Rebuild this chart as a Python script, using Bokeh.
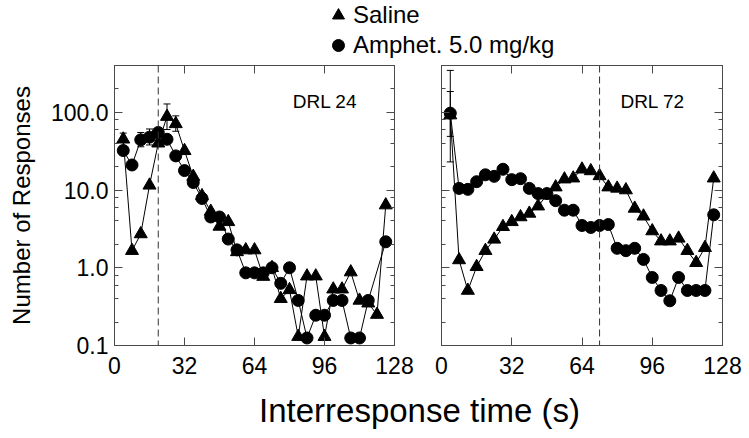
from bokeh.plotting import figure
from bokeh.models import (Range1d, LinearAxis, LogAxis, FixedTicker, LogTicker,
                          PrintfTickFormatter, Span, Label, Whisker, ColumnDataSource,
                          Legend, LegendItem, TeeHead)
from bokeh.layouts import column, row
from bokeh.embed import file_html
from bokeh.resources import INLINE

# ---------------- data ----------------
irt_bins = [4, 8, 12, 16, 20, 24, 28, 32, 36, 40, 44, 48, 52, 56, 60, 64,
            68, 72, 76, 80, 84, 88, 92, 96, 100, 104, 108, 112, 116, 120, 124]

drl24_saline = [45, 1.66, 2.72, 11.5, 40, 88, 71, 32, 14.9, 8.4, 5.3, 3.4, 3.9, 1.6, 1.69, 1.69,
                0.77, 1.0, 0.40, 0.52, 0.13, 0.78, 0.78, 0.13, 0.53, 0.53, 0.88, 0.38, 0.35, 0.25, 6.4]
drl24_amph = [32.2, 21, 44.2, 47.9, 55, 45, 27.5, 17.8, 12.5, 7.8, 4.5, 4.5, 2.34, 1.7, 0.86, 0.86,
              0.86, 1.0, 0.63, 1.0, 0.38, 0.125, 0.245, 0.245, 0.38, 0.38, 0.125, 0.125, 0.38, None, 2.16]

drl72_saline = [92, 1.26, 0.51, 1.03, 1.66, 2.32, 3.37, 3.9, 4.5, 5.0, 6.2, 8.6, 10.9, 13.8, 14.2, 18.5,
                17.6, 15.2, 10.9, 10.5, 10.0, 5.8, 4.6, 2.97, 2.2, 2.2, 2.39, 1.66, 1.16, 1.81, 14.2]
drl72_amph = [97.5, 10.5, 10.2, 12.8, 15.7, 15.0, 18.5, 13.6, 14.0, 10.5, 9.0, 9.0, 7.3, 5.5, 5.5, 3.5,
              3.3, 3.5, 3.6, 1.78, 1.66, 1.78, 1.28, 0.75, 0.51, 0.376, 0.75, 0.51, 0.51, 0.51, 4.8]

drl24_err_x = [4, 12, 16, 24, 28]
drl24_err_lo = [37, 36, 38, 60, 57]
drl24_err_hi = [54, 55, 61, 128, 90]

drl72_err_x = [4, 4]
drl72_err_lo = [23, 49]
drl72_err_hi = [346, 185]

x_ticks = [0, 32, 64, 96, 128]
criteria = {"DRL 24": 20, "DRL 72": 72}

legend_labels = ["Saline", "Amphet. 5.0 mg/kg"]
x_title = "Interresponse time (s)"
y_title = "Number of Responses"

# ---------------- style ----------------
FONT = "Liberation Sans"
FRAME = "#4a4a4a"


def clean(xs, ys):
    pts = [(a, b) for a, b in zip(xs, ys) if b is not None]
    return [p[0] for p in pts], [p[1] for p in pts]


def style_axis(ax, show_labels, standoff=6):
    ax.axis_line_color = FRAME
    ax.axis_line_width = 1
    ax.major_tick_line_color = FRAME
    ax.minor_tick_line_color = FRAME
    ax.major_tick_in = 8
    ax.major_tick_out = 0
    ax.minor_tick_in = 4
    ax.minor_tick_out = 0
    if show_labels:
        ax.major_label_text_font = FONT
        ax.major_label_text_font_size = "23px"
        ax.major_label_text_color = "black"
        ax.major_label_standoff = standoff
    else:
        ax.major_label_text_color = None
        ax.major_label_standoff = 0


def make_panel(name, saline, amph, ex, elo, ehi, show_y, width, bl, br):
    p = figure(width=width, height=327, x_range=Range1d(0, 128), y_range=Range1d(0.1, 400),
               y_axis_type="log", output_backend="svg", toolbar_location=None,
               min_border_left=bl, min_border_right=br, min_border_top=2, min_border_bottom=45,
               background_fill_color="white", border_fill_color="white")
    p.xgrid.visible = False
    p.ygrid.visible = False
    p.outline_line_color = FRAME

    xb = p.xaxis[0]
    xb.ticker = FixedTicker(ticks=x_ticks, minor_ticks=[])
    style_axis(xb, True, standoff=11)

    yl = p.yaxis[0]
    yl.ticker = LogTicker()
    yl.formatter = PrintfTickFormatter(format="%.1f")
    style_axis(yl, show_y, standoff=6)
    if show_y:
        yl.axis_label = y_title
        yl.axis_label_text_font = FONT
        yl.axis_label_text_font_size = "24px"
        yl.axis_label_text_font_style = "normal"
        yl.axis_label_text_color = "black"
        yl.axis_label_standoff = 13

    top = LinearAxis(ticker=FixedTicker(ticks=x_ticks, minor_ticks=[]))
    style_axis(top, False)
    p.add_layout(top, "above")
    right = LogAxis(ticker=LogTicker())
    style_axis(right, False)
    p.add_layout(right, "right")

    crit = criteria[name]
    p.add_layout(Span(location=crit, dimension="height", line_color="#333333",
                      line_dash="7 4", line_width=1))

    src = ColumnDataSource(dict(x=ex, lo=elo, hi=ehi))
    p.add_layout(Whisker(base="x", lower="lo", upper="hi", source=src, line_color="black",
                         line_width=1,
                         upper_head=TeeHead(size=7, line_color="black", line_width=1),
                         lower_head=TeeHead(size=7, line_color="black", line_width=1)))

    sx, sy = clean(irt_bins, saline)
    ax_, ay = clean(irt_bins, amph)
    p.line(sx, sy, line_color="black", line_width=1)
    p.scatter(sx, sy, marker="triangle", size=13, fill_color="black", line_color="black")
    p.line(ax_, ay, line_color="black", line_width=1)
    p.scatter(ax_, ay, marker="circle", size=12, fill_color="black", line_color="black")

    p.add_layout(Label(x=81.5, y=136, text=name, text_font=FONT, text_font_size="19px",
                       text_color="black", text_baseline="middle"))
    return p


left = make_panel("DRL 24", drl24_saline, drl24_amph, drl24_err_x, drl24_err_lo, drl24_err_hi,
                  True, 414, 114, 20)
right = make_panel("DRL 72", drl72_saline, drl72_amph, drl72_err_x, drl72_err_lo, drl72_err_hi,
                   False, 334, 27, 26)

# legend strip on top: proxy renderers use the first data points, which lie
# outside this strip's (0..1) range, so only the legend glyphs show
top_fig = figure(width=748, height=63, x_range=Range1d(0, 1), y_range=Range1d(0, 1),
                 output_backend="svg", toolbar_location=None, min_border=0,
                 min_border_left=0, min_border_right=0, min_border_top=0, min_border_bottom=0)
top_fig.axis.visible = False
top_fig.xgrid.visible = False
top_fig.ygrid.visible = False
top_fig.outline_line_color = None
r_sal = top_fig.scatter(x=[irt_bins[0]], y=[drl24_saline[0]], marker="triangle",
                        fill_color="black", line_color="black", size=12)
r_amp = top_fig.scatter(x=[irt_bins[0]], y=[drl24_amph[0]], marker="circle",
                        fill_color="black", line_color="black", size=11)
leg = Legend(items=[LegendItem(label=legend_labels[0], renderers=[r_sal]),
                    LegendItem(label=legend_labels[1], renderers=[r_amp])],
             location=(323, 3), orientation="vertical", glyph_width=30, glyph_height=30,
             label_standoff=0, padding=0, margin=0, spacing=0,
             border_line_color=None, background_fill_alpha=0,
             label_text_font=FONT, label_text_font_size="24px", label_text_color="black")
top_fig.add_layout(leg)

# x title strip at bottom
bot_fig = figure(width=748, height=47, x_range=Range1d(0, 748), y_range=Range1d(0, 47),
                 output_backend="svg", toolbar_location=None, min_border=0,
                 min_border_left=0, min_border_right=0, min_border_top=0, min_border_bottom=0)
bot_fig.axis.visible = False
bot_fig.xgrid.visible = False
bot_fig.ygrid.visible = False
bot_fig.outline_line_color = None
bot_fig.add_layout(Label(x=419, y=27.5, text=x_title, text_font=FONT, text_font_size="33px",
                         text_color="black", text_align="center", text_baseline="middle"))

layout = column(top_fig, row(left, right), bot_fig)

open("out.html", "w").write(file_html(layout, INLINE))
